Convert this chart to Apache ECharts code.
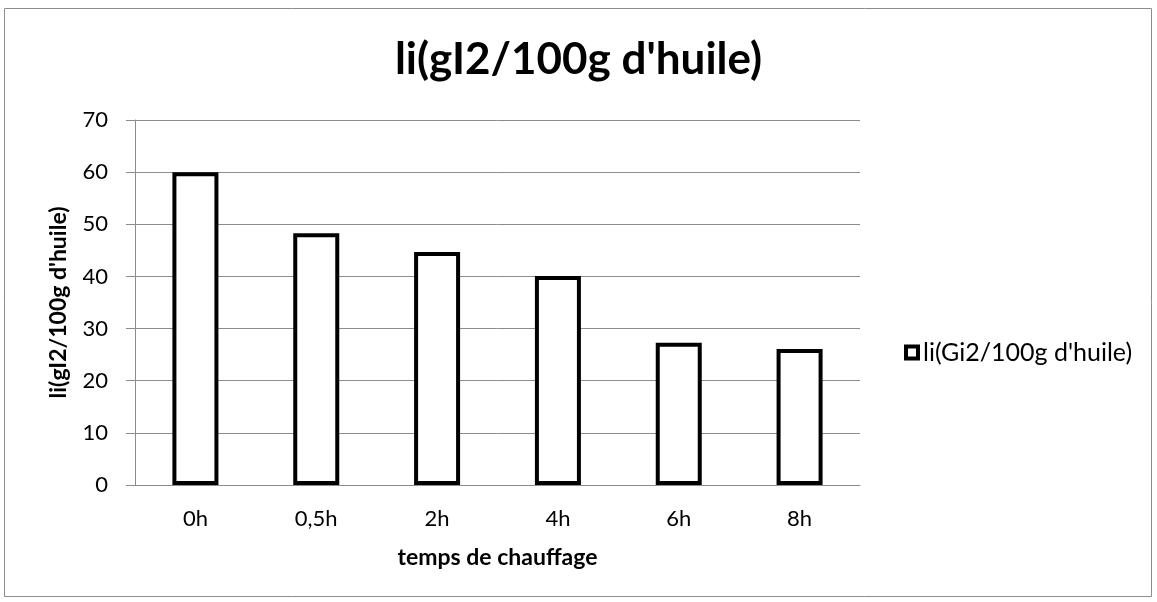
<!DOCTYPE html>
<html><head><meta charset="utf-8">
<script src="https://cdn.jsdelivr.net/npm/echarts@6/dist/echarts.min.js"></script>
<style>html,body{margin:0;padding:0;background:#fff}#c{width:1157px;height:602px}</style>
</head><body><div id="c"></div>
<script>
const categories = ["0h", "0,5h", "2h", "4h", "6h", "8h"];
const values = [60, 48.3, 44.7, 40.1, 27.3, 26.1];
const seriesName = "li(Gi2/100g d'huile)";
const titleText = "li(gI2/100g d'huile)";
const yTitle = "li(gI2/100g d'huile)";
const xTitle = "temps de chauffage";
const font = "Lato, 'Open Sans', sans-serif";

const chart = echarts.init(document.getElementById('c'), null, {renderer: 'canvas'});
chart.setOption({
  animation: false,
  backgroundColor: '#fff',
  graphic: [{
    type: 'rect', shape: {x: 4.5, y: 8.5, width: 1147, height: 588},
    style: {fill: 'none', stroke: '#8c8c8c', lineWidth: 1}, silent: true, z: -1
  }],
  title: {
    text: titleText, left: 'center', top: 33,
    textStyle: {fontFamily: font, fontSize: 44, fontWeight: 'bold', color: '#000'}
  },
  legend: {
    data: [seriesName], left: 899, top: 335, orient: 'vertical',
    icon: 'rect', itemWidth: 12, itemHeight: 12, itemGap: 5,
    itemStyle: {color: '#fff', borderColor: '#000', borderWidth: 4},
    textStyle: {fontFamily: font, fontSize: 25, color: '#000'}
  },
  grid: {left: 135, right: 297, top: 120, bottom: 117},
  xAxis: {
    type: 'category', data: categories,
    name: xTitle, nameLocation: 'middle', nameGap: 61,
    nameTextStyle: {fontFamily: font, fontSize: 23, fontWeight: 'bold', color: '#000'},
    axisLine: {lineStyle: {color: '#8c8c8c', width: 1}},
    axisTick: {show: false},
    axisLabel: {fontFamily: font, fontSize: 22, color: '#000', margin: 23}
  },
  yAxis: {
    type: 'value', min: 0, max: 70, interval: 10,
    name: yTitle, nameLocation: 'middle', nameGap: 65, nameRotate: 90,
    nameTextStyle: {fontFamily: font, fontSize: 23, fontWeight: 'bold', color: '#000'},
    axisLine: {show: true, lineStyle: {color: '#8c8c8c', width: 1}},
    axisTick: {show: true, length: 9, inside: false, lineStyle: {color: '#8c8c8c'}},
    axisLabel: {fontFamily: font, fontSize: 22, color: '#000', margin: 27},
    splitLine: {lineStyle: {color: '#8c8c8c', width: 1}}
  },
  series: [{
    name: seriesName, type: 'bar', data: values, barWidth: 46,
    itemStyle: {color: '#fff', borderColor: '#000', borderWidth: 4}
  }]
});
</script></body></html>
